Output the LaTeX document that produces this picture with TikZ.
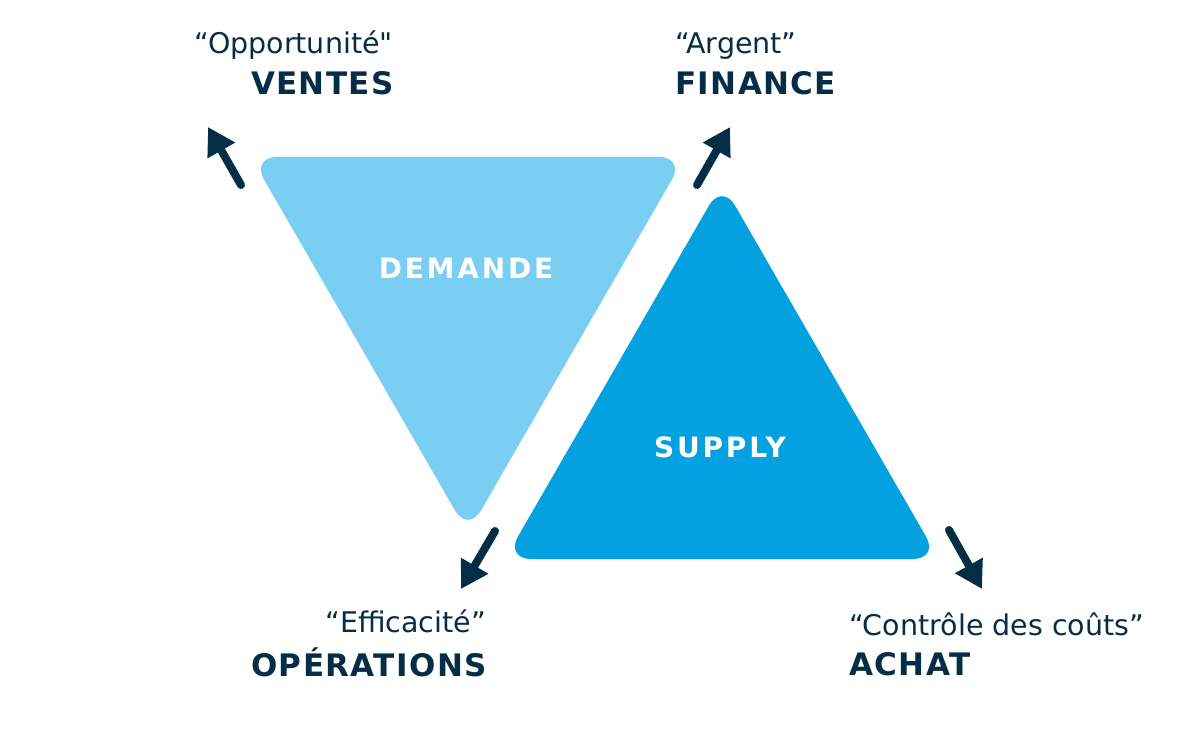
\documentclass[tikz,border=0pt]{standalone}
\usepackage{fontspec}
\setmainfont{DejaVu Sans}
\newfontfamily\qfont{DejaVu Sans}
\newfontfamily\lblfont[LetterSpace=4.5]{DejaVu Sans}
\newfontfamily\inlblfont[LetterSpace=10]{DejaVu Sans}
\usetikzlibrary{arrows.meta}
\definecolor{navy}{HTML}{062D46}
\definecolor{lightblue}{HTML}{7ACEF2}
\definecolor{supplyblue}{HTML}{03A1E0}
\tikzset{
  tri/.style={rounded corners=26pt},
  quote/.style={inner sep=0pt, text=navy, font=\fontsize{28.5}{34}\selectfont\qfont},
  dept/.style={inner sep=0pt, text=navy, font=\fontsize{31}{36}\selectfont\lblfont\bfseries},
  inlabel/.style={inner sep=0pt, text=white, font=\fontsize{28}{34}\selectfont\inlblfont\bfseries},
  pointer/.style={draw=navy, line width=8pt, line cap=round, -{Triangle[length=27pt,width=30pt]}, navy}
}
\begin{document}
\begin{tikzpicture}[x=1pt,y=-1pt]
\useasboundingbox (0,0) rectangle (1200,735);
% triangle corners
\coordinate (d1) at (251,157);
\coordinate (d2) at (685,157);
\coordinate (d3) at (468,533);
\coordinate (s1) at (722,183);
\coordinate (s2) at (939,559);
\coordinate (s3) at (505,559);
\fill[lightblue, tri] (d1) -- (d2) -- (d3) -- cycle;
\fill[supplyblue, tri] (s1) -- (s2) -- (s3) -- cycle;
\node[inlabel, anchor=base] (demande) at (466,279) {DEMANDE};
\node[inlabel, anchor=base] (supply) at (720,457) {SUPPLY};
% arrows
\coordinate (tlA) at (241,185);
\coordinate (tlB) at (208,127);
\coordinate (trA) at (697,185);
\coordinate (trB) at (730,127);
\coordinate (blA) at (495,531);
\coordinate (blB) at (461,589);
\coordinate (brA) at (949,530);
\coordinate (brB) at (982,589);
\draw[pointer] (tlA) -- (tlB);
\draw[pointer] (trA) -- (trB);
\draw[pointer] (blA) -- (blB);
\draw[pointer] (brA) -- (brB);
% labels
\node[quote, anchor=base east] (q1) at (393,54) {“Opportunité"};
\node[dept, anchor=base east] (ventes) at (394,95) {VENTES};
\node[quote, anchor=base west] (q2) at (675,54) {“Argent”};
\node[dept, anchor=base west] (finance) at (675,95) {FINANCE};
\node[quote, anchor=base east] (q3) at (486,632) {“Efficacité”};
\node[dept, anchor=base east] (ops) at (487,676) {OPÉRATIONS};
\node[quote, anchor=base west] (q4) at (849,635) {“Contrôle des coûts”};
\node[dept, anchor=base west] (achat) at (849,675) {ACHAT};
\end{tikzpicture}
\end{document}
